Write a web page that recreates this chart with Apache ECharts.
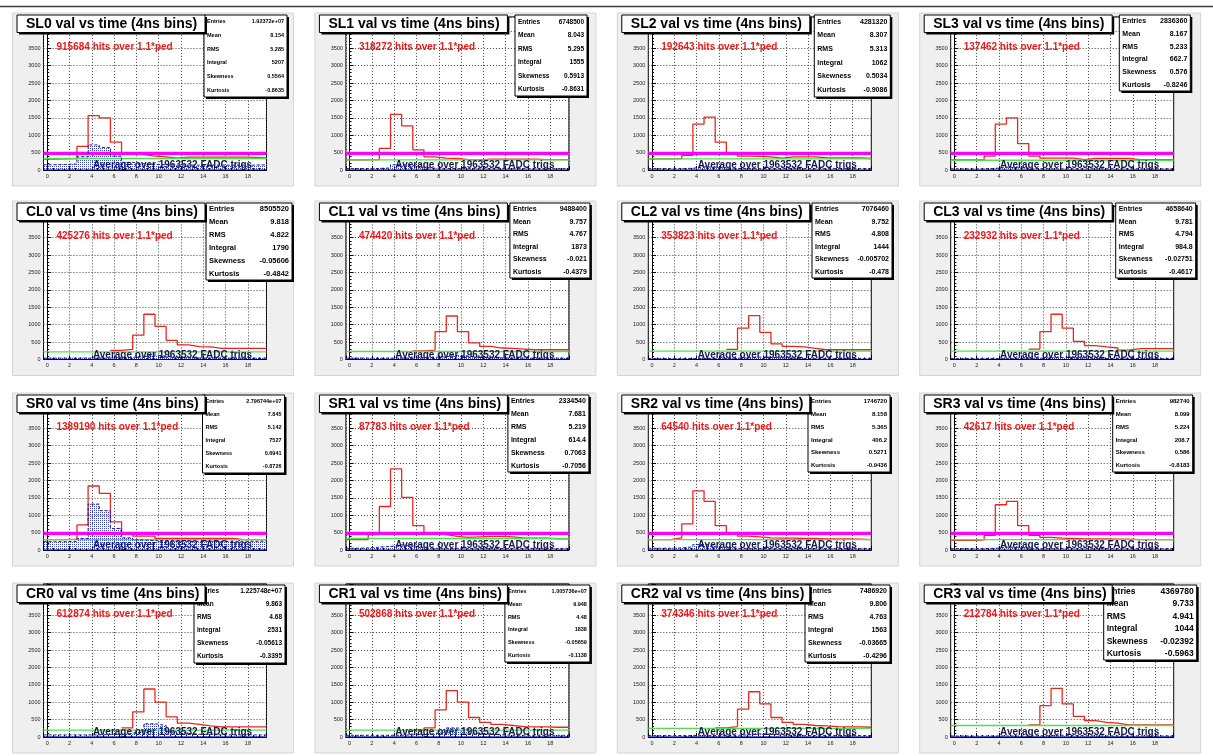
<!DOCTYPE html>
<html><head><meta charset="utf-8">
<script src="https://cdn.jsdelivr.net/npm/echarts@6/dist/echarts.min.js"></script>
<style>html,body{margin:0;padding:0;background:#fff}#c{width:1213px;height:756px}</style>
</head><body><div id="c"></div><script>
// ---------------- data ----------------
const panelNames = ['SL0','SL1','SL2','SL3','CL0','CL1','CL2','CL3','SR0','SR1','SR2','SR3','CR0','CR1','CR2','CR3'];
const hitsOverPed = [915684,318272,192643,137462,425276,474420,353823,232932,1389190,87783,64540,42617,612874,502868,374346,212784];
const nTrigs = 1963532;
const statEntries = ['1.92372e+07','6748500','4281320','2836360','8505520','9488400','7076460','4658640','2.796744e+07','2334540','1746720','982740','1.225748e+07','1.005736e+07','7486920','4369780'];
const statMean = ['8.154','8.043','8.307','8.167','9.818','9.757','9.752','9.781','7.845','7.681','8.158','8.099','9.863','9.948','9.806','9.733'];
const statRMS = ['5.285','5.295','5.313','5.233','4.822','4.767','4.808','4.794','5.142','5.219','5.365','5.224','4.68','4.48','4.763','4.941'];
const statIntegral = ['5207','1555','1062','662.7','1790','1873','1444','984.8','7527','614.4','406.2','208.7','2531','1838','1563','1044'];
const statSkewness = ['0.5564','0.5913','0.5034','0.576','-0.05606','-0.021','-0.005702','-0.02751','0.6941','0.7063','0.5271','0.586','-0.05613','-0.05659','-0.03665','-0.02392'];
const statKurtosis = ['-0.8635','-0.8631','-0.9086','-0.8246','-0.4842','-0.4379','-0.478','-0.4617','-0.8726','-0.7056','-0.9436','-0.8183','-0.3395','-0.1138','-0.4296','-0.5963'];

const greenLevel = [330,290,320,280,220,230,240,240,300,330,300,300,200,200,250,330];
const magentaLevel = [480,480,480,480,null,null,null,null,480,480,480,480,null,null,null,null];

const binLowEdge = -0.33;   // lower edge of bin 0 (4ns bins)
const binWidth = 1;
const xAxisMin = -0.33, xAxisMax = 19.67;
const yAxisMin = 0, yAxisMax = 4400, yTickStep = 500;
const xTickLabels = [0,2,4,6,8,10,12,14,16,18];
const yTickLabels = [0,500,1000,1500,2000,2500,3000,3500,4000];

const red_SL0 = [310,320,330,680,1565,1500,800,460,440,400,380,340,370,370,370,370,370,370,360,350];
const red_SL1 = [290,290,300,620,1600,1270,580,380,340,330,300,290,310,310,310,310,310,300,300,300];
const red_SL2 = [320,320,330,420,1320,1520,800,470,400,390,380,340,380,380,380,350,350,350,350,330];
const red_SL3 = [290,290,290,400,1320,1500,760,400,340,340,340,300,330,330,330,330,300,300,300,300];
const red_CL0 = [null,null,null,null,null,null,260,290,700,1300,950,550,420,370,360,320,320,320,320,320];
const red_CL1 = [null,null,null,null,null,null,250,270,800,1250,800,480,380,330,320,300,280,280,280,280];
const red_CL2 = [null,null,null,null,null,null,null,290,900,1260,780,450,380,360,320,280,280,280,280,280];
const red_CL3 = [null,null,null,null,null,null,null,300,800,1300,900,520,400,360,330,270,310,310,310,310];
const red_SR0 = [300,300,310,720,1840,1630,810,480,400,400,330,330,330,330,330,330,330,300,300,300];
const red_SR1 = [300,300,440,1250,2330,1515,700,480,440,390,365,380,390,390,380,340,340,340,320,320];
const red_SR2 = [300,300,350,750,1700,1400,700,460,400,380,350,340,340,330,330,320,320,320,310,300];
const red_SR3 = [280,280,290,420,1300,1400,700,420,360,340,330,320,320,320,310,310,300,300,300,300];
const red_CR0 = [null,null,null,null,null,null,null,260,720,1380,1000,580,400,360,320,290,290,290,290,290];
const red_CR1 = [null,null,null,null,null,null,200,260,780,1330,1000,560,420,360,330,300,290,290,280,280];
const red_CR2 = [null,null,null,null,null,null,260,300,800,1300,950,560,420,360,330,320,300,290,290,280];
const red_CR3 = [null,null,null,null,null,null,null,350,900,1400,950,590,470,420,400,350,350,350,350,350];

const blue_SL0 = [150,160,170,380,720,650,400,220,180,160,150,140,140,140,140,140,140,140,140,150];
const blue_SL1 = [40,40,45,60,150,130,80,50,45,40,40,40,40,40,40,40,40,40,40,40];
const blue_SL2 = [40,40,40,50,90,80,60,45,40,40,40,40,40,40,40,40,40,40,40,40];
const blue_SL3 = [35,35,35,45,80,70,50,40,35,35,35,35,35,35,35,35,35,35,35,35];
const blue_CL0 = [40,40,40,40,40,40,50,60,80,130,100,60,50,45,40,40,40,40,40,40];
const blue_CL1 = [40,40,40,40,40,40,50,60,80,120,100,60,50,45,40,40,40,40,40,40];
const blue_CL2 = [30,30,30,30,30,30,35,40,50,70,60,45,35,30,30,30,30,30,30,30];
const blue_CL3 = [30,30,30,30,30,30,35,40,50,60,55,40,35,30,30,30,30,30,30,30];
const blue_SR0 = [240,240,250,330,1320,1130,620,350,290,270,260,250,250,250,250,250,250,250,250,250];
const blue_SR1 = [50,60,80,100,150,120,70,50,45,45,45,45,45,45,45,45,45,45,45,45];
const blue_SR2 = [50,50,60,90,160,140,80,50,45,45,45,45,45,45,45,45,45,45,45,45];
const blue_SR3 = [40,40,40,50,80,80,55,40,40,40,40,40,40,40,40,40,40,40,40,40];
const blue_CR0 = [60,60,60,60,60,70,80,100,150,380,330,150,100,80,70,60,60,60,60,60];
const blue_CR1 = [50,50,50,50,50,60,70,90,130,260,220,110,80,60,50,50,50,50,50,50];
const blue_CR2 = [40,40,40,40,40,40,45,50,60,90,80,55,45,40,40,40,40,40,40,40];
const blue_CR3 = [30,30,30,30,30,30,30,35,40,50,45,35,30,30,30,30,30,30,30,30];

const redByPanel = [red_SL0,red_SL1,red_SL2,red_SL3,red_CL0,red_CL1,red_CL2,red_CL3,red_SR0,red_SR1,red_SR2,red_SR3,red_CR0,red_CR1,red_CR2,red_CR3];
const blueByPanel = [blue_SL0,blue_SL1,blue_SL2,blue_SL3,blue_CL0,blue_CL1,blue_CL2,blue_CL3,blue_SR0,blue_SR1,blue_SR2,blue_SR3,blue_CR0,blue_CR1,blue_CR2,blue_CR3];

// ---------------- layout / style ----------------
const colFrameLeft = [43.5, 345.9, 648.3, 950.7];
const frameW = 223;
const rowZeroY = [170, 359.5, 550, 737];
const rowTitleTop = [15, 203, 395, 585];
const frameH = 153.1;
// stats box: [left offset from frame left, width, height, font size]
const statsStyle = [
  [160.5,83,82,5.5],[169.1,72,81,6.5],[166,76,82,7],[168.6,71,76,7],
  [162.5,86,77,7.5],[164,80,75,7],[163.7,80,75,7],[165,80,75,7],
  [159,82,78,5.5],[162,81,77,7],[159.7,82,77,6],[162,80,77,6],
  [150.5,91,78,6.5],[159,85,77,5.5],[156.7,85,77,7],[153,93,75,8.5]
];
const FONT = '"Liberation Sans", Arial, Helvetica, sans-serif';

function makeDots(){
  const cv = document.createElement('canvas');
  cv.width = 2; cv.height = 2;
  const g = cv.getContext('2d');
  g.fillStyle = '#3a48c8';
  g.fillRect(0,0,1,1);
  return cv;
}
const dotPattern = {image: makeDots(), repeat: 'repeat'};

function stepData(vals){
  const out = [];
  let last = null;
  vals.forEach((v,k)=>{
    if (v === null || v === undefined) return;
    out.push([binLowEdge + k*binWidth, v]);
    last = k;
  });
  if (last !== null) out.push([binLowEdge + (last+1)*binWidth, vals[last]]);
  return out;
}
function barData(vals){
  return vals.map((v,k)=>[binLowEdge + k*binWidth, binLowEdge + (k+1)*binWidth, v]);
}

const grids = [], xAxes = [], yAxes = [], series = [], graphics = [];

graphics.push({type:'line', shape:{x1:0,y1:6.5,x2:1213,y2:6.5}, style:{stroke:'#3a3a3a',lineWidth:1.5}, z:200});

panelNames.forEach((name,i)=>{
  const r = Math.floor(i/4), c = i%4;
  const fl = colFrameLeft[c], zy = rowZeroY[r], tt = rowTitleTop[r];
  grids.push({left: fl, top: zy - frameH, width: frameW, height: frameH, show: true,
    backgroundColor:'#ffffff', borderColor:'#000', borderWidth:1, containLabel:false});
  xAxes.push({type:'value', gridIndex:i, min:xAxisMin, max:xAxisMax, splitNumber:10,
    axisLine:{show:true,lineStyle:{color:'#000',width:1}},
    axisTick:{show:true,inside:true,length:4,lineStyle:{color:'#000'}},
    minorTick:{show:true,splitNumber:4,length:2,lineStyle:{color:'#000'}},
    splitLine:{show:true,lineStyle:{color:'#444',type:[1,2],width:1}},
    axisLabel:{fontSize:5.5,fontFamily:FONT,color:'#222',margin:3,
      formatter:(v)=>{const k=Math.round(v); return (Math.abs(v-k)<1e-6 && xTickLabels.indexOf(k)>=0)? String(k):'';}}
  });
  yAxes.push({type:'value', gridIndex:i, min:yAxisMin, max:yAxisMax, interval:yTickStep,
    axisLine:{show:true,lineStyle:{color:'#000',width:1}},
    axisTick:{show:true,inside:true,length:4,lineStyle:{color:'#000'}},
    minorTick:{show:true,splitNumber:5,length:2,lineStyle:{color:'#000'}},
    splitLine:{show:true,lineStyle:{color:'#444',type:[1,2],width:1}},
    axisLabel:{fontSize:5.5,fontFamily:FONT,color:'#222',margin:3,
      formatter:(v)=> yTickLabels.indexOf(v)>=0 ? String(v) : ''}
  });
  // blue hatched histogram
  series.push({type:'custom', xAxisIndex:i, yAxisIndex:i, clip:true, z:1,
    data: barData(blueByPanel[i]), encode:{x:[0,1], y:2},
    renderItem:(params, api)=>{
      const p0 = api.coord([api.value(0), api.value(2)]);
      const p1 = api.coord([api.value(1), 0]);
      return {type:'rect', shape:{x:p0[0], y:p0[1], width:p1[0]-p0[0], height:p1[1]-p0[1]},
        style:{fill: dotPattern, stroke:null}};
    }
  });
  // red histogram
  series.push({type:'line', xAxisIndex:i, yAxisIndex:i, step:'end', symbol:'none', z:3,
    data: stepData(redByPanel[i]), lineStyle:{color:'#e8281e', width:1.3}, clip:true, animation:false});
  // green reference
  series.push({type:'line', xAxisIndex:i, yAxisIndex:i, symbol:'none', z:4,
    data:[[xAxisMin, greenLevel[i]],[xAxisMax, greenLevel[i]]], lineStyle:{color:'#4fe04f', width:1.3}});
  // magenta threshold
  if (magentaLevel[i] !== null){
    series.push({type:'line', xAxisIndex:i, yAxisIndex:i, symbol:'none', z:5,
      data:[[xAxisMin, magentaLevel[i]],[xAxisMax, magentaLevel[i]]], lineStyle:{color:'#ff00ff', width:3.2}});
  }
  // blue dashed outline
  series.push({type:'line', xAxisIndex:i, yAxisIndex:i, step:'end', symbol:'none', z:6,
    data: stepData(blueByPanel[i]), lineStyle:{color:'#1c1c8a', width:1, type:[3,2]}});

  // pad background
  graphics.push({type:'rect', z:-10, shape:{x: fl-31, y: tt-2, width: 281, height: zy+16-(tt-2)},
    style:{fill:'#efefef', stroke:'#d4d4d4', lineWidth:1}});
  // texts in plot
  graphics.push({type:'text', z:150, x: fl+13, y: zy-123,
    style:{text: hitsOverPed[i] + ' hits over 1.1*ped', fill:'#f01818', fontSize:10, fontWeight:'bold', fontFamily:FONT, align:'left', verticalAlign:'middle'}});
  graphics.push({type:'text', z:150, x: fl+129, y: zy-4.5,
    style:{text: 'Average over ' + nTrigs + ' FADC trigs', fill:'#18184a', fontSize:10, fontWeight:'bold', fontFamily:FONT, align:'center', verticalAlign:'middle'}});
  // stats box
  const ss = statsStyle[i];
  const sx = fl + ss[0], sy = tt, sw = ss[1], sh = ss[2], fs = ss[3];
  graphics.push({type:'rect', z:160, shape:{x:sx+2, y:sy+2, width:sw, height:sh}, style:{fill:'#000'}});
  graphics.push({type:'rect', z:161, shape:{x:sx, y:sy, width:sw, height:sh}, style:{fill:'#fff', stroke:'#000', lineWidth:1}});
  const labels = ['Entries','Mean','RMS','Integral','Skewness','Kurtosis'];
  const vals = [statEntries[i],statMean[i],statRMS[i],statIntegral[i],statSkewness[i],statKurtosis[i]];
  labels.forEach((lb,k)=>{
    const yy = sy + sh*(k+0.5)/6;
    graphics.push({type:'text', z:162, x:sx+3, y:yy, style:{text:lb, fill:'#000', fontSize:fs, fontWeight:'bold', fontFamily:FONT, align:'left', verticalAlign:'middle'}});
    graphics.push({type:'text', z:162, x:sx+sw-3, y:yy, style:{text:vals[k], fill:'#000', fontSize:fs, fontWeight:'bold', fontFamily:FONT, align:'right', verticalAlign:'middle'}});
  });
  // title box
  const tx = fl - 26.5, tw = 188, th = 17.5;
  graphics.push({type:'rect', z:170, shape:{x:tx+2, y:tt+2, width:tw, height:th}, style:{fill:'#000'}});
  graphics.push({type:'rect', z:171, shape:{x:tx, y:tt, width:tw, height:th}, style:{fill:'#fff', stroke:'#000', lineWidth:1}});
  graphics.push({type:'text', z:172, x:tx+9, y:tt+th/2+0.5,
    style:{text: name + ' val vs time (4ns bins)', fill:'#000', fontSize:14, fontWeight:'bold', fontFamily:FONT, align:'left', verticalAlign:'middle'}});
});

const chart = echarts.init(document.getElementById('c'), null, {renderer:'canvas'});
chart.setOption({
  animation:false,
  backgroundColor:'#ffffff',
  grid: grids, xAxis: xAxes, yAxis: yAxes, series: series, graphic: graphics
});
</script></body></html>
